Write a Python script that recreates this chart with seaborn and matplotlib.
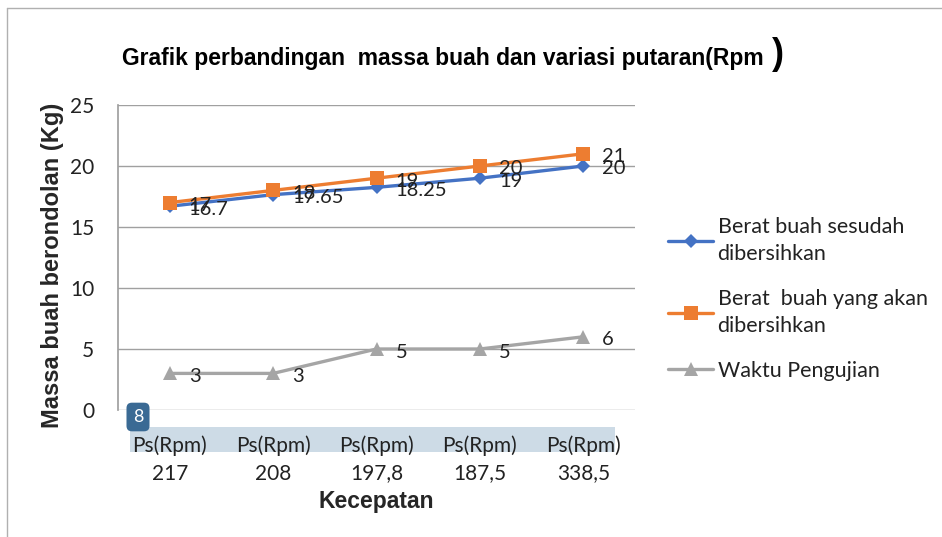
import matplotlib
matplotlib.use("Agg")
import matplotlib.pyplot as plt
import seaborn as sns
import pandas as pd
from matplotlib.patches import Rectangle
from matplotlib.lines import Line2D

categories = ["Ps(Rpm)\n217", "Ps(Rpm)\n208", "Ps(Rpm)\n197,8", "Ps(Rpm)\n187,5", "Ps(Rpm)\n338,5"]
series_names = ["Berat buah sesudah\ndibersihkan", "Berat  buah yang akan\ndibersihkan", "Waktu Pengujian"]
berat_sesudah = [16.7, 17.65, 18.25, 19, 20]
berat_akan = [17, 18, 19, 20, 21]
waktu = [3, 3, 5, 5, 6]
label_sesudah = ["16.7", "17.65", "18.25", "19", "20"]
label_akan = ["17", "18", "19", "20", "21"]
label_waktu = ["3", "3", "5", "5", "6"]
yticks = [0, 5, 10, 15, 20, 25]

sns.set_theme(style="white")
plt.rcParams['font.family'] = ['Lato', 'DejaVu Sans']

rows = []
for name, vals in zip(series_names, [berat_sesudah, berat_akan, waktu]):
    for i, v in enumerate(vals):
        rows.append({"x": i, "y": v, "series": name})
df = pd.DataFrame(rows)

colors = {series_names[0]: "#4472C4", series_names[1]: "#ED7D31", series_names[2]: "#A5A5A5"}
markers = {series_names[0]: "D", series_names[1]: "s", series_names[2]: "^"}
msizes = {series_names[0]: 7, series_names[1]: 10, series_names[2]: 10}

fig = plt.figure(figsize=(9.42, 5.37), dpi=100)
ax = fig.add_axes([118/942, 127/537, 517/942, 305/537])

sns.lineplot(data=df, x="x", y="y", hue="series", style="series", palette=colors,
             markers=markers, dashes=False, linewidth=2.4, ax=ax, legend=False,
             markeredgewidth=0, hue_order=series_names, style_order=series_names)
for line, name in zip(ax.get_lines(), series_names):
    line.set_markersize(msizes[name])

ax.set_xlim(-0.5, 4.5)
ax.set_ylim(0, 25)
ax.set_yticks(yticks)
ax.set_yticklabels([str(t) for t in yticks], fontsize=15, color="#222222")
ax.set_xticks(range(len(categories)))
ax.set_xticklabels(categories, fontsize=15, color="#222222", linespacing=1.5)
ax.tick_params(axis="y", length=0, pad=17)
ax.tick_params(axis="x", length=0, pad=18)
ax.yaxis.grid(True, color="#a0a0a0", linewidth=1)
ax.set_axisbelow(True)
for s in ["top", "right", "bottom"]:
    ax.spines[s].set_visible(False)
ax.spines["left"].set_color("#a0a0a0")
ax.set_xlabel("Kecepatan", fontsize=16.5, fontweight="bold", family="Liberation Sans")
ax.xaxis.set_label_coords(0.5, -80/305)
ax.set_ylabel("Massa buah berondolan (Kg)", fontsize=17, fontweight="bold", family="Liberation Sans")
ax.yaxis.set_label_coords(-54/517, 0.5 - 8/305)

# highlight band behind first line of category labels
band = Rectangle((12/517, -42/305), 485/517, 25/305, transform=ax.transAxes,
                 facecolor="#cddbe6", edgecolor="none", clip_on=False, zorder=0)
ax.add_patch(band)
ax.text(20/517, -7/305, "8", transform=ax.transAxes, ha="center", va="center", fontsize=13,
        color="white", zorder=5,
        bbox=dict(boxstyle="round,pad=0.35,rounding_size=0.3", facecolor="#3a6a94", edgecolor="none"))

for vals, labs in [(berat_sesudah, label_sesudah), (berat_akan, label_akan), (waktu, label_waktu)]:
    for i, (v, lab) in enumerate(zip(vals, labs)):
        ax.annotate(lab, (i, v), xytext=(19, -3), textcoords="offset pixels",
                    ha="left", va="center", fontsize=14.5, color="#222222")

handles = [Line2D([0], [0], color=colors[n], marker=markers[n], markersize=msizes[n],
                  markeredgewidth=0, linewidth=2.4) for n in series_names]
fig.legend(handles, series_names, loc="upper left", bbox_to_anchor=(668/942, 1 - 217/537),
           frameon=False, fontsize=15.5, handlelength=2.1, handletextpad=0.2,
           labelspacing=1.15, labelcolor="#222222", borderpad=0, borderaxespad=0)
for t in fig.legends[0].get_texts():
    t.set_linespacing(1.45)

fig.text(122/942, 1 - 58/537, "Grafik perbandingan  massa buah dan variasi putaran(Rpm",
         fontsize=16.5, fontweight="bold", family="Liberation Sans", va="center", ha="left", color="black")
fig.text(772/942, 1 - 55/537, ")", fontsize=26, fontweight="bold", family="Liberation Sans",
         va="center", ha="left", color="black")

fig.add_artist(Line2D([7/942, 7/942], [0, 1 - 8/537], transform=fig.transFigure, color="#b0b0b0", linewidth=1))
fig.add_artist(Line2D([7/942, 1], [1 - 8/537, 1 - 8/537], transform=fig.transFigure, color="#b0b0b0", linewidth=1))

fig.savefig("out.png", dpi=100)
